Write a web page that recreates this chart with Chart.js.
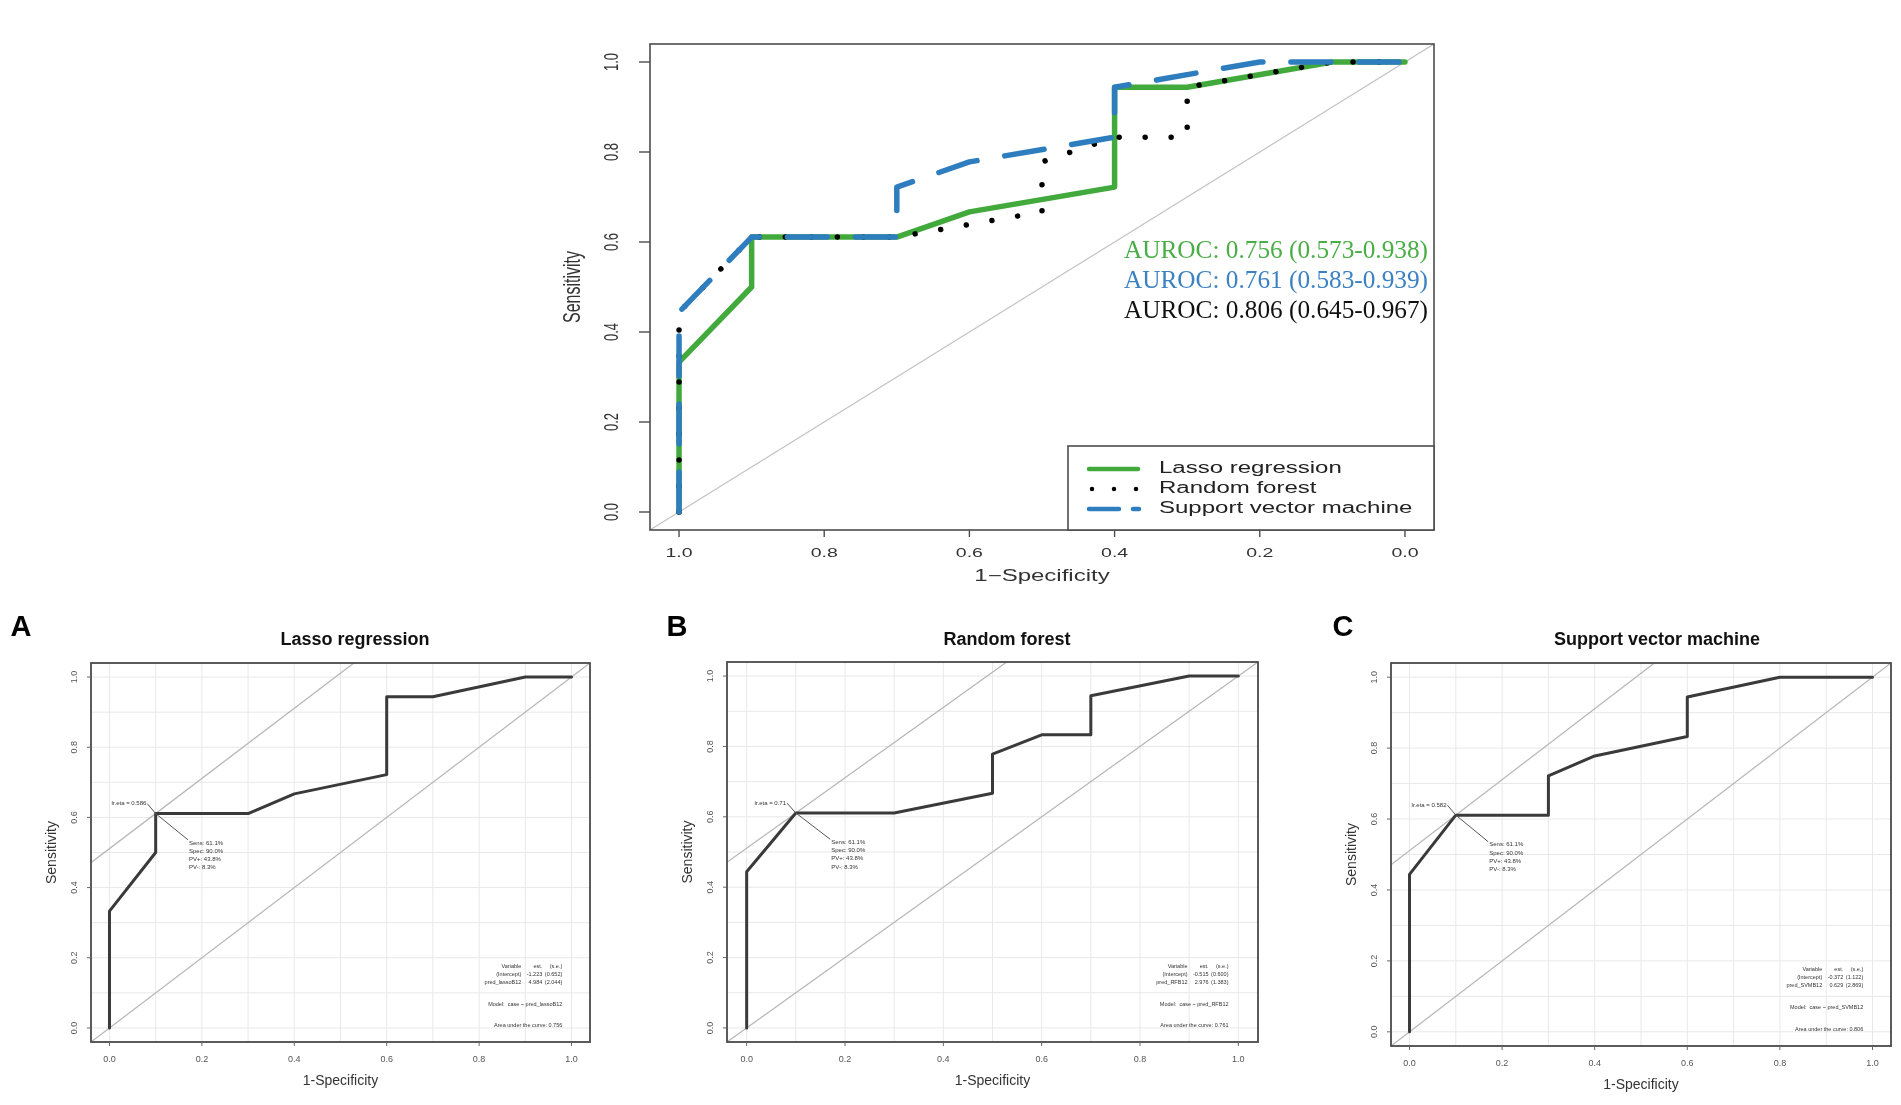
<!DOCTYPE html>
<html>
<head>
<meta charset="utf-8">
<script src="https://cdn.jsdelivr.net/npm/chart.js@4.4.1/dist/chart.umd.min.js"></script>
<style>
html,body{margin:0;padding:0;background:#fff;width:1901px;height:1105px;overflow:hidden}
canvas{position:absolute;left:0;top:0}
</style>
</head>
<body>
<canvas id="main" width="1901" height="1105"></canvas>
<canvas id="pa" width="1901" height="1105"></canvas>
<canvas id="pb" width="1901" height="1105"></canvas>
<canvas id="pc" width="1901" height="1105"></canvas>
<script>
// ---------- DATA ----------
const seriesNames = ['Lasso regression', 'Random forest', 'Support vector machine'];
// ROC points: false positive rate (1 - specificity) and sensitivity
const lassoFpr  = [0, 0, 0.1, 0.1, 0.3, 0.4, 0.6, 0.6, 0.7, 0.9, 1.0];
const lassoSens = [0, 0.333, 0.5, 0.611, 0.611, 0.667, 0.722, 0.944, 0.944, 1.0, 1.0];
const rfFpr  = [0, 0, 0.1, 0.3, 0.5, 0.5, 0.6, 0.7, 0.7, 0.9, 1.0];
const rfSens = [0, 0.444, 0.611, 0.611, 0.667, 0.778, 0.833, 0.833, 0.944, 1.0, 1.0];
const svmFpr  = [0, 0, 0.1, 0.3, 0.3, 0.4, 0.6, 0.6, 0.8, 1.0];
const svmSens = [0, 0.444, 0.611, 0.611, 0.722, 0.778, 0.833, 0.944, 1.0, 1.0];
// optimal cut-off points (1-spec, sens) per model
const cutFpr  = [0.1, 0.1, 0.1];
const cutSens = [0.611, 0.611, 0.611];
const cutLabels = ['lr.eta = 0.586', 'lr.eta = 0.71', 'lr.eta = 0.582'];
const cutStats = [
  ['Sens: 61.1%', 'Spec: 90.0%', 'PV+: 43.8%', 'PV-: 8.3%'],
  ['Sens: 61.1%', 'Spec: 90.0%', 'PV+: 43.8%', 'PV-: 8.3%'],
  ['Sens: 61.1%', 'Spec: 90.0%', 'PV+: 43.8%', 'PV-: 8.3%']
];
const coefTables = [
  [['Variable','est.','(s.e.)'], ['(Intercept)','-1.223','(0.652)'], ['pred_lassoB12','4.984','(2.044)']],
  [['Variable','est.','(s.e.)'], ['(Intercept)','-0.515','(0.600)'], ['pred_RFB12','2.976','(1.383)']],
  [['Variable','est.','(s.e.)'], ['(Intercept)','-0.372','(1.122)'], ['pred_SVMB12','0.629','(2.869)']]
];
const modelLabels = ['Model:  case ~ pred_lassoB12', 'Model:  case ~ pred_RFB12', 'Model:  case ~ pred_SVMB12'];
const aucLabels = ['Area under the curve: 0.756', 'Area under the curve: 0.761', 'Area under the curve: 0.806'];
const aurocTexts = ['AUROC: 0.756 (0.573-0.938)', 'AUROC: 0.761 (0.583-0.939)', 'AUROC: 0.806 (0.645-0.967)'];
// tick labels
const tickVals = [0, 0.2, 0.4, 0.6, 0.8, 1.0];
const mainXTickLabels = ['1.0', '0.8', '0.6', '0.4', '0.2', '0.0'];   // specificity (reversed)
const tickLabels = ['0.0', '0.2', '0.4', '0.6', '0.8', '1.0'];
const gridVals = [0, 0.1, 0.2, 0.3, 0.4, 0.5, 0.6, 0.7, 0.8, 0.9, 1.0];
const panelTitles = ['Lasso regression', 'Random forest', 'Support vector machine'];
const panelLetters = ['A', 'B', 'C'];

// ---------- STYLE / LAYOUT ----------
const W = 1901, H = 1105;
const GREEN = '#42AA3C', BLUE = '#2E7DBE', GREEN_T = '#4AAE47', BLUE_T = '#3C82C3';
const SANS = '"Liberation Sans", Arial, sans-serif';
const SERIF = '"Liberation Serif", "Times New Roman", serif';
const LIM = [-0.04, 1.04];
const SX = 1.5; // horizontal stretch of the top figure's text

function pts(xs, ys) { return xs.map((v, i) => ({x: v, y: ys[i]})); }
function txt(ctx, s, x, y, o) {
  ctx.save();
  ctx.font = o.font; ctx.fillStyle = o.color || '#222';
  ctx.textAlign = o.align || 'center'; ctx.textBaseline = o.base || 'middle';
  ctx.translate(x, y);
  if (o.sx) ctx.scale(o.sx, 1);
  if (o.rot) ctx.rotate(o.rot);
  ctx.fillText(s, 0, 0);
  ctx.restore();
}
function seg(ctx, x1, y1, x2, y2) { ctx.beginPath(); ctx.moveTo(x1, y1); ctx.lineTo(x2, y2); ctx.stroke(); }
function pad(box) { return {left: box.l, right: W - box.r, top: box.t, bottom: H - box.b}; }
function scalesCfg() {
  return {
    x: {type: 'linear', min: LIM[0], max: LIM[1], grid: {display: false}, ticks: {display: false}, border: {display: false}, afterFit(s) { s.height = 0; }},
    y: {type: 'linear', min: LIM[0], max: LIM[1], grid: {display: false}, ticks: {display: false}, border: {display: false}, afterFit(s) { s.width = 0; }}
  };
}

// ---------- MAIN COMBINED ROC ----------
const mainBox = {l: 650, r: 1434, t: 44, b: 530};
const mainDeco = {
  id: 'mainDeco',
  afterDraw(chart) {
    const {ctx, chartArea: a, scales: {x, y}} = chart;
    ctx.save();
    ctx.strokeStyle = '#4d4d4d'; ctx.lineWidth = 1.6; ctx.setLineDash([]);
    ctx.strokeRect(a.left, a.top, a.right - a.left, a.bottom - a.top);
    ctx.lineWidth = 1.4;
    tickVals.forEach((v, i) => {
      const px = x.getPixelForValue(v);
      seg(ctx, px, a.bottom, px, a.bottom + 7);
      txt(ctx, mainXTickLabels[i], px, a.bottom + 23, {font: '13px ' + SANS, sx: SX, color: '#333'});
      const py = y.getPixelForValue(v);
      seg(ctx, a.left, py, a.left - 11, py);
      txt(ctx, tickLabels[i], a.left - 37, py, {font: '13px ' + SANS, sx: SX, rot: -Math.PI / 2, color: '#333'});
    });
    txt(ctx, '1\u2212Specificity', (a.left + a.right) / 2, a.bottom + 47, {font: '16px ' + SANS, sx: SX, color: '#333'});
    txt(ctx, 'Sensitivity', a.left - 77, (a.top + a.bottom) / 2, {font: '16px ' + SANS, sx: SX, rot: -Math.PI / 2, color: '#333'});
    // legend
    const lg = {l: 1068, t: 446, r: a.right, b: a.bottom};
    ctx.fillStyle = '#fff'; ctx.fillRect(lg.l, lg.t, lg.r - lg.l, lg.b - lg.t);
    ctx.strokeStyle = '#4d4d4d'; ctx.lineWidth = 1.6;
    ctx.strokeRect(lg.l, lg.t, lg.r - lg.l, lg.b - lg.t);
    const legendStyles = [
      {c: GREEN, dash: [], x1: 1089, x2: 1138},
      {c: '#000', dash: [0.001, 22], x1: 1092, x2: 1137},
      {c: BLUE, dash: [30, 14], x1: 1089, x2: 1139}
    ];
    seriesNames.forEach((n, i) => {
      const yy = 469 + i * 20;
      const st = legendStyles[i];
      ctx.strokeStyle = st.c; ctx.lineWidth = 4.5; ctx.lineCap = 'round'; ctx.setLineDash(st.dash);
      seg(ctx, st.x1, yy, st.x2, yy);
      ctx.setLineDash([]);
      txt(ctx, n, 1159, yy, {font: '16px ' + SANS, sx: SX, align: 'left', color: '#222'});
    });
    // AUROC labels
    const aurocColors = [GREEN_T, BLUE_T, '#111'];
    aurocTexts.forEach((s, i) => {
      ctx.font = '26px ' + SERIF;
      const w = ctx.measureText(s).width;
      const f = 304 / w;
      txt(ctx, s, 1428, 251 + i * 30, {font: '26px ' + SERIF, sx: f, align: 'right', color: aurocColors[i]});
    });
    ctx.restore();
  }
};

new Chart(document.getElementById('main'), {
  type: 'line',
  data: {
    datasets: [
      {label: seriesNames[2], data: pts(svmFpr, svmSens), borderColor: BLUE, borderWidth: 5.5, borderDash: [40, 28], borderCapStyle: 'round', borderJoinStyle: 'round', order: 0},
      {label: seriesNames[1], data: pts(rfFpr, rfSens), borderColor: '#000', borderWidth: 5.5, borderDash: [0.001, 26], borderCapStyle: 'round', borderJoinStyle: 'round', order: 1},
      {label: seriesNames[0], data: pts(lassoFpr, lassoSens), borderColor: GREEN, borderWidth: 5.5, borderCapStyle: 'round', borderJoinStyle: 'round', order: 2},
      {label: 'reference', data: [{x: LIM[0], y: LIM[0]}, {x: LIM[1], y: LIM[1]}], borderColor: '#c4c4c4', borderWidth: 1.2, order: 3}
    ]
  },
  options: {
    responsive: false, animation: false, devicePixelRatio: 1,
    layout: {padding: pad(mainBox)},
    elements: {point: {radius: 0}, line: {tension: 0, fill: false}},
    plugins: {legend: {display: false}, tooltip: {enabled: false}},
    scales: scalesCfg()
  },
  plugins: [mainDeco]
});

// ---------- PANELS A, B, C ----------
const panelBoxes = [
  {l: 91, r: 590, t: 663, b: 1042, titleX: 355, letterX: 21},
  {l: 727, r: 1258, t: 662, b: 1042, titleX: 1007, letterX: 677},
  {l: 1391, r: 1891, t: 663, b: 1046, titleX: 1657, letterX: 1343}
];
const panelData = [[lassoFpr, lassoSens], [rfFpr, rfSens], [svmFpr, svmSens]];

function subDeco(k) {
  return {
    id: 'subDeco' + k,
    beforeDatasetsDraw(chart) {
      const {ctx, chartArea: a, scales: {x, y}} = chart;
      ctx.save();
      ctx.strokeStyle = '#e8e8e8'; ctx.lineWidth = 1;
      gridVals.forEach(v => {
        const px = x.getPixelForValue(v), py = y.getPixelForValue(v);
        seg(ctx, px, a.top, px, a.bottom);
        seg(ctx, a.left, py, a.right, py);
      });
      ctx.restore();
    },
    afterDraw(chart) {
      const {ctx, chartArea: a, scales: {x, y}} = chart;
      const bx = panelBoxes[k];
      ctx.save();
      ctx.strokeStyle = '#4a4a4a'; ctx.lineWidth = 1.8;
      ctx.strokeRect(a.left, a.top, a.right - a.left, a.bottom - a.top);
      ctx.lineWidth = 1; ctx.strokeStyle = '#666';
      tickVals.forEach((v, i) => {
        const px = x.getPixelForValue(v), py = y.getPixelForValue(v);
        seg(ctx, px, a.bottom, px, a.bottom + 4);
        seg(ctx, a.left, py, a.left - 4, py);
        txt(ctx, tickLabels[i], px, a.bottom + 18, {font: '9px ' + SANS, color: '#555'});
        txt(ctx, tickLabels[i], a.left - 16, py, {font: '9px ' + SANS, rot: -Math.PI / 2, color: '#555'});
      });
      txt(ctx, '1-Specificity', (a.left + a.right) / 2, a.bottom + 39, {font: '14px ' + SANS, color: '#333'});
      txt(ctx, 'Sensitivity', a.left - 39, (a.top + a.bottom) / 2, {font: '14px ' + SANS, rot: -Math.PI / 2, color: '#333'});
      txt(ctx, panelTitles[k], bx.titleX, 640, {font: 'bold 18px ' + SANS, color: '#111'});
      txt(ctx, panelLetters[k], bx.letterX, 628, {font: 'bold 29px ' + SANS, color: '#000'});
      // optimal cut-off annotation
      const px = x.getPixelForValue(cutFpr[k]), py = y.getPixelForValue(cutSens[k]);
      const lx = x.getPixelForValue(cutFpr[k] - 0.018), ly = y.getPixelForValue(cutSens[k] + 0.028);
      const sx = x.getPixelForValue(cutFpr[k] + 0.07), sy = y.getPixelForValue(cutSens[k] - 0.075);
      ctx.strokeStyle = '#555'; ctx.lineWidth = 1;
      seg(ctx, px, py, lx, ly);
      seg(ctx, px, py, sx, sy);
      txt(ctx, cutLabels[k], lx - 1, ly, {font: '6px ' + SANS, align: 'right', color: '#333'});
      cutStats[k].forEach((s, i) => txt(ctx, s, sx + 1, sy + 3 + i * 8.2, {font: '6px ' + SANS, align: 'left', color: '#333'}));
      // coefficient table
      const rx = x.getPixelForValue(0.98);
      const rows = [0.176, 0.152, 0.13];
      coefTables[k].forEach((r, i) => {
        const ry = y.getPixelForValue(rows[i]);
        txt(ctx, r[0], rx - 41, ry, {font: '5.5px ' + SANS, align: 'right', color: '#333'});
        txt(ctx, r[1], rx - 20, ry, {font: '5.5px ' + SANS, align: 'right', color: '#333'});
        txt(ctx, r[2], rx, ry, {font: '5.5px ' + SANS, align: 'right', color: '#333'});
      });
      txt(ctx, modelLabels[k], rx, y.getPixelForValue(0.068), {font: '5.5px ' + SANS, align: 'right', color: '#333'});
      txt(ctx, aucLabels[k], rx, y.getPixelForValue(0.007), {font: '5.5px ' + SANS, align: 'right', color: '#333'});
      ctx.restore();
    }
  };
}

['pa', 'pb', 'pc'].forEach((id, k) => {
  const b = cutSens[k] - cutFpr[k]; // intercept of slope-1 line through the cut-off point
  new Chart(document.getElementById(id), {
    type: 'line',
    data: {
      datasets: [
        {label: panelTitles[k], data: pts(panelData[k][0], panelData[k][1]), borderColor: '#3a3a3a', borderWidth: 3, borderJoinStyle: 'round', borderCapStyle: 'round', order: 0},
        {label: 'cut-off line', data: [{x: LIM[0], y: LIM[0] + b}, {x: LIM[1] - b, y: LIM[1]}], borderColor: '#b8b8b8', borderWidth: 1.3, order: 1},
        {label: 'reference', data: [{x: LIM[0], y: LIM[0]}, {x: LIM[1], y: LIM[1]}], borderColor: '#b8b8b8', borderWidth: 1.3, order: 2}
      ]
    },
    options: {
      responsive: false, animation: false, devicePixelRatio: 1,
      layout: {padding: pad(panelBoxes[k])},
      elements: {point: {radius: 0}, line: {tension: 0, fill: false}},
      plugins: {legend: {display: false}, tooltip: {enabled: false}},
      scales: scalesCfg()
    },
    plugins: [subDeco(k)]
  });
});
</script>
</body>
</html>
